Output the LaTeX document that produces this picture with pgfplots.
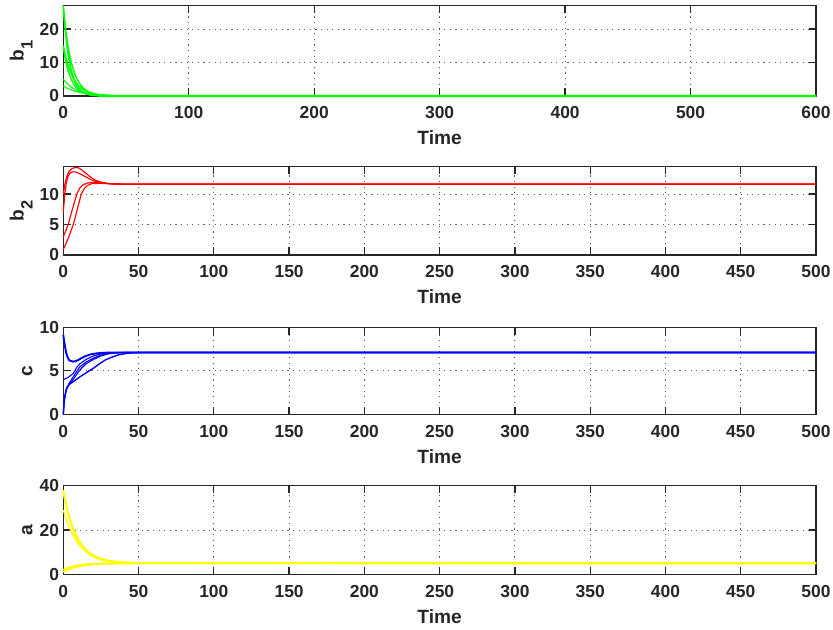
\documentclass[border=0pt]{standalone}
\usepackage{fontspec}
\setmainfont{Liberation Sans}
\usepackage{pgfplots}
\pgfplotsset{compat=1.18}
\definecolor{axc}{RGB}{38,38,38}
\definecolor{mg}{RGB}{0,255,0}
\definecolor{mr}{RGB}{255,0,0}
\definecolor{mb}{RGB}{0,0,255}
\definecolor{my}{RGB}{255,255,0}
\pgfplotsset{
  panel/.style={
    clip=false,
    scale only axis, width=752.7bp, xmin=0,
    /pgf/number format/assume math mode=true,
    axis line style={line width=1.3bp, color=axc},
    every tick/.style={line width=1.3bp, color=axc},
    major tick length=7.5bp, tick align=inside, tick pos=both,
    grid=major,
    major grid style={dash pattern=on 1.2bp off 4.4bp, color=black!65, line width=0.9bp},
    xticklabel style={font=\fontsize{17.5}{17.5}\selectfont\bfseries, text=axc, anchor=base, yshift=-23bp, inner sep=0pt},
    yticklabel style={font=\fontsize{17.5}{17.5}\selectfont\bfseries, text=axc, anchor=east, xshift=-4bp, inner sep=0pt},
    xlabel={Time},
    xlabel style={at={(rel axis cs:0.5,0)}, anchor=base, yshift=-49bp, inner sep=0pt, font=\fontsize{19.25}{19.25}\selectfont\bfseries, text=axc},
    ylabel style={at={([xshift=-30.5bp]rel axis cs:0,0.5)}, anchor=south, inner sep=0pt, font=\fontsize{19.25}{19.25}\selectfont\bfseries, text=axc},
  }
}
\begin{document}
\begin{tikzpicture}
\useasboundingbox (0,0) rectangle (833bp,630bp);
% ---------- b1 ----------
\begin{axis}[panel, at={(63.3bp,624.3bp)}, anchor=north west, height=90.3bp,
  xmax=600, ymin=0, ymax=27, xtick={0,100,...,600}, ytick={0,10,20},
  ylabel={b\raisebox{-9bp}{\fontsize{16.5}{16.5}\selectfont 1}}]
\addplot[mg, line width=1.6bp] coordinates {(0,27)(2,18.1)(4,12.1)(6,8.13)(8,5.45)(10,3.65)(12,2.45)(15,1.34)(18,0.74)(21,0.40)(25,0.18)(30,0.07)(35,0.025)(40,0.01)(50,0)(600,0)};
\addplot[mg, line width=1.4bp] coordinates {(0,26)(2,19.3)(4,14.3)(6,10.6)(8,7.83)(10,5.80)(12,4.30)(15,2.74)(18,1.75)(21,1.11)(25,0.61)(30,0.29)(35,0.14)(40,0.06)(50,0.01)(600,0)};
\addplot[mg, line width=1.4bp] coordinates {(0,15)(2,11.6)(4,8.9)(6,6.9)(8,5.3)(10,4.1)(12,3.15)(15,2.13)(18,1.44)(21,0.98)(25,0.58)(30,0.30)(35,0.16)(40,0.08)(50,0.02)(600,0)};
\addplot[mg, line width=1.4bp] coordinates {(0,14.5)(2,10.3)(4,7.35)(6,5.23)(8,3.72)(10,2.65)(12,1.89)(15,1.13)(18,0.68)(21,0.41)(25,0.20)(30,0.09)(35,0.04)(40,0.02)(50,0)(600,0)};
\addplot[mg, line width=1.1bp] coordinates {(0,5)(2,4.1)(4,3.35)(6,2.74)(8,2.25)(10,1.84)(12,1.5)(15,1.12)(18,0.83)(21,0.61)(25,0.41)(30,0.25)(35,0.15)(40,0.09)(50,0.03)(600,0)};
\addplot[mg, line width=1.1bp] coordinates {(0,3)(2,2.56)(4,2.18)(6,1.86)(8,1.58)(10,1.35)(12,1.15)(15,0.90)(18,0.71)(21,0.56)(25,0.41)(30,0.27)(35,0.18)(40,0.12)(50,0.05)(600,0)};
\end{axis}
% overlay so the settled b1 curves lie over the bottom frame line
\begin{axis}[scale only axis, hide axis, clip=false, width=752.7bp, height=90.3bp,
  at={(63.3bp,624.3bp)}, anchor=north west, xmin=0, xmax=600, ymin=0, ymax=27]
\addplot[mg, line width=2.4bp] coordinates {(28,0.05)(40,0)(600,0)};
\end{axis}
% ---------- b2 ----------
\begin{axis}[panel, at={(63.3bp,463.3bp)}, anchor=north west, height=88.3bp,
  xmax=500, ymin=0, ymax=14.48, xtick={0,50,...,500}, ytick={0,5,10},
  ylabel={b\raisebox{-9bp}{\fontsize{16.5}{16.5}\selectfont 2}}]
\addplot[mr, line width=1.15bp] coordinates {(0,10)(1,11.5)(2,12.6)(3,13.3)(4,13.8)(6,14.2)(8,14.35)(10,14.3)(12,14.0)(15,13.4)(18,12.8)(21,12.3)(25,11.95)(30,11.72)(35,11.63)(40,11.6)(50,11.6)(500,11.6)};
\addplot[mr, line width=1.15bp] coordinates {(0,7)(1,10)(2,11.8)(3,12.8)(4,13.3)(5,13.55)(7,13.65)(9,13.55)(12,13.2)(15,12.8)(18,12.4)(21,12.1)(25,11.85)(30,11.7)(35,11.62)(40,11.6)(500,11.6)};
\addplot[mr, line width=1.15bp] coordinates {(0,3)(2,4.2)(3.3,5)(5,6.6)(7,8.3)(9,10)(11,11)(13,11.5)(16,11.8)(20,11.9)(25,11.8)(30,11.7)(40,11.62)(500,11.6)};
\addplot[mr, line width=1.15bp] coordinates {(0,0.9)(2,2)(4,3.2)(6.6,5)(8,6.2)(10,8.2)(12,10)(14,10.9)(16,11.4)(19,11.7)(24,11.75)(30,11.7)(40,11.62)(500,11.6)};
\end{axis}
% ---------- c ----------
\begin{axis}[panel, at={(63.3bp,302.7bp)}, anchor=north west, height=87bp,
  xmax=500, ymin=0, ymax=10, xtick={0,50,...,500}, ytick={0,5,10},
  ylabel={c}]
\addplot[mb, line width=1.9bp] coordinates {(0,9.1)(1,7.9)(2,7.0)(3,6.5)(4,6.2)(6.6,6.05)(8,6.1)(10,6.25)(12,6.45)(15,6.7)(18,6.88)(21,6.98)(25,7.05)(30,7.1)(500,7.1)};
\addplot[mb, line width=1.1bp] coordinates {(0,4.0)(1,4.05)(2.2,4.14)(4,4.35)(6.6,4.7)(9,5.4)(11,5.8)(15,6.3)(20,6.7)(25,6.95)(30,7.07)(35,7.1)(500,7.1)};
\addplot[mb, line width=1.1bp] coordinates {(0,0)(0.5,1.4)(1,2.1)(2.2,3.0)(4,3.6)(6.6,4.3)(9,4.95)(11,5.45)(15,6.0)(20,6.45)(25,6.8)(30,7.0)(35,7.07)(40,7.1)(500,7.1)};
\addplot[mb, line width=1.1bp] coordinates {(0,0)(0.5,1.3)(1,2.0)(2.2,2.9)(4,3.45)(6.6,4.0)(9,4.6)(11,5.1)(15,5.8)(20,6.3)(25,6.7)(30,6.95)(35,7.06)(40,7.1)(500,7.1)};
\addplot[mb, line width=1.4bp] coordinates {(0,0)(0.5,1.3)(1,2.0)(2.2,3.0)(4,3.45)(6.6,3.75)(9,4.05)(11,4.3)(15,4.75)(20,5.3)(24,5.8)(28,6.25)(32,6.55)(37,6.85)(42,7.0)(46,7.07)(52,7.1)(500,7.1)};
\end{axis}
% ---------- a ----------
\begin{axis}[panel, at={(63.3bp,144.3bp)}, anchor=north west, height=88.6bp,
  xmax=500, ymin=0, ymax=40, xtick={0,50,...,500}, ytick={0,20,40},
  ylabel={a}]
\addplot[my, line width=1.8bp] coordinates {(0,38)(2,31.0)(4,25.4)(6,21.1)(8,17.6)(10,14.9)(12,12.8)(15,10.4)(18,8.8)(21,7.6)(25,6.6)(30,5.9)(35,5.5)(40,5.27)(50,5.08)(500,5)};
\addplot[my, line width=1.8bp] coordinates {(0,37)(2,30.7)(4,25.6)(6,21.5)(8,18.3)(10,15.7)(12,13.5)(15,11.1)(18,9.4)(21,8.2)(25,7.0)(30,6.2)(35,5.7)(40,5.4)(50,5.13)(500,5)};
\addplot[my, line width=1.3bp] coordinates {(0,29)(2,24.7)(4,21.1)(6,18.2)(8,15.8)(10,13.8)(12,12.2)(15,10.4)(18,9.0)(21,7.9)(25,7.0)(30,6.2)(35,5.7)(40,5.4)(50,5.16)(500,5)};
\addplot[my, line width=1.8bp] coordinates {(0,1)(2,1.72)(4,2.32)(6,2.80)(8,3.20)(10,3.53)(12,3.80)(15,4.11)(18,4.34)(21,4.51)(25,4.67)(30,4.80)(35,4.88)(40,4.93)(50,4.97)(500,5)};
\addplot[my, line width=1.8bp] coordinates {(0,2)(2,2.64)(4,3.14)(6,3.54)(8,3.85)(10,4.10)(12,4.29)(15,4.50)(18,4.66)(21,4.76)(25,4.85)(30,4.92)(35,4.96)(40,4.98)(50,4.99)(500,5)};
\end{axis}
\end{tikzpicture}
\end{document}
